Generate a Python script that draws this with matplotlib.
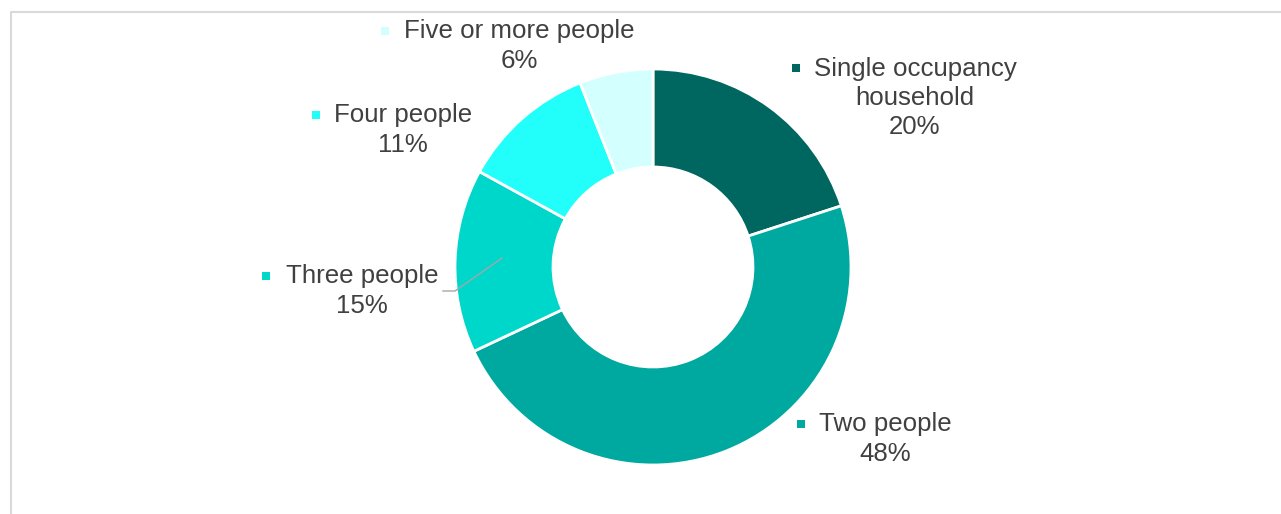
import matplotlib.pyplot as plt

# household size shares (percent)
categories = ["Single occupancy\nhousehold", "Two people", "Three people",
              "Four people", "Five or more people"]
shares = [20, 48, 15, 11, 6]
colors = ["#006660", "#00A99F", "#00D7CB", "#22FFFA", "#D3FFFF"]

# label placement in pixels: (text centre x, block centre y, marker x, marker y)
label_pos = [
    (915, 98, 796, 68),
    (885, 439, 801, 424),
    (362, 291, 266, 276),
    (403, 130, 316, 115),
    (519, 46, 385, 31),
]

W, H = 1281, 514
CX, CY, R = 653, 267, 198

plt.rcParams["font.family"] = ["Liberation Sans", "DejaVu Sans"]

fig = plt.figure(figsize=(W / 100, H / 100), dpi=100)

ax = fig.add_axes([(CX - R) / W, (H - CY - R) / H, 2 * R / W, 2 * R / H])
ax.pie(shares, colors=colors, startangle=90, counterclock=False, radius=1,
       wedgeprops=dict(width=0.495, edgecolor="white", linewidth=2))
ax.set_xlim(-1, 1)
ax.set_ylim(-1, 1)
ax.set_aspect("equal")
ax.axis("off")

# overlay in pixel coordinates for labels and frame
ov = fig.add_axes([0, 0, 1, 1], facecolor="none")
ov.set_xlim(0, W)
ov.set_ylim(H, 0)
ov.axis("off")

ov.plot([10.5, 10.5, W], [H, 11.5, 11.5], color="#d9d9d9", lw=1.5)

for name, val, col, (tx, ty, mx, my) in zip(categories, shares, colors, label_pos):
    ov.text(tx, ty, f"{name}\n{val}%", ha="center", va="center",
            multialignment="center", fontsize=18.6, color="#404040",
            linespacing=1.27)
    ov.plot(mx, my, marker="s", markersize=6, color=col, markeredgewidth=0)

# leader line for the three-people label
ov.plot([443, 455, 502], [291, 291, 258], color="#a6a6a6", lw=1)

fig.savefig("out.png", dpi=100)
